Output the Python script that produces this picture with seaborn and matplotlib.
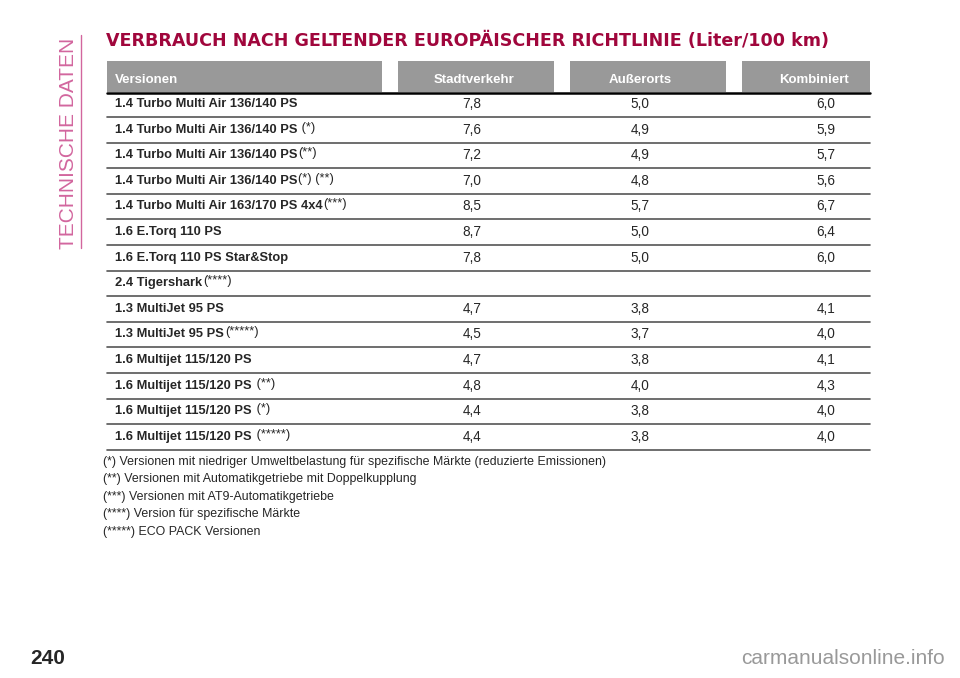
import matplotlib
matplotlib.use("Agg")
import matplotlib.pyplot as plt
import matplotlib.patches as mpatch
import seaborn as sns

sns.set_theme(style="white", font="Liberation Sans")

title = "VERBRAUCH NACH GELTENDER EUROPÄISCHER RICHTLINIE (Liter/100 km)"
headers = ["Versionen", "Stadtverkehr", "Außerorts", "Kombiniert"]
versions = ["1.4 Turbo Multi Air 136/140 PS", "1.4 Turbo Multi Air 136/140 PS",
            "1.4 Turbo Multi Air 136/140 PS", "1.4 Turbo Multi Air 136/140 PS",
            "1.4 Turbo Multi Air 163/170 PS 4x4", "1.6 E.Torq 110 PS",
            "1.6 E.Torq 110 PS Star&Stop", "2.4 Tigershark", "1.3 MultiJet 95 PS",
            "1.3 MultiJet 95 PS", "1.6 Multijet 115/120 PS", "1.6 Multijet 115/120 PS",
            "1.6 Multijet 115/120 PS", "1.6 Multijet 115/120 PS"]
marks = ["", " (*)", "(**)", "(*) (**)", "(***)", "", "", "(****)", "", "(*****)",
         "", " (**)", " (*)", " (*****)"]
stadt = ["7,8", "7,6", "7,2", "7,0", "8,5", "8,7", "7,8", "", "4,7", "4,5", "4,7", "4,8", "4,4", "4,4"]
ausser = ["5,0", "4,9", "4,9", "4,8", "5,7", "5,0", "5,0", "", "3,8", "3,7", "3,8", "4,0", "3,8", "3,8"]
kombi = ["6,0", "5,9", "5,7", "5,6", "6,7", "6,4", "6,0", "", "4,1", "4,0", "4,1", "4,3", "4,0", "4,0"]
notes = ["(*) Versionen mit niedriger Umweltbelastung für spezifische Märkte (reduzierte Emissionen)",
         "(**) Versionen mit Automatikgetriebe mit Doppelkupplung",
         "(***) Versionen mit AT9-Automatikgetriebe",
         "(****) Version für spezifische Märkte",
         "(*****) ECO PACK Versionen"]

W, H = 960, 678
fig = plt.figure(figsize=(W / 100, H / 100), dpi=100)
ax = fig.add_axes([0, 0, 1, 1])
ax.set_xlim(0, W)
ax.set_ylim(H, 0)
ax.axis("off")

pink = "#d2669e"
ax.text(68, 249, "TECHNISCHE DATEN", rotation=90, color=pink, fontsize=15,
        fontfamily="Liberation Sans", ha="center", va="bottom")
ax.plot([81, 81], [35, 248], color=pink, lw=1)

ax.text(106, 41, title, color="#a0063c", fontsize=12.6, fontweight="bold",
        fontfamily="DejaVu Sans", va="center")

# header boxes
boxes = [(107, 382), (398, 554), (570, 726), (742, 870)]
centers = [None, 474, 640, 814]
for i, (x0, x1) in enumerate(boxes):
    ax.add_patch(mpatch.Rectangle((x0, 61), x1 - x0, 31, color="#999999", lw=0))
    if i == 0:
        ax.text(115, 80, headers[i], color="white", fontsize=9.5, fontweight="bold", va="center")
    else:
        ax.text(centers[i], 80, headers[i], color="white", fontsize=9.5, fontweight="bold",
                va="center", ha="center")
ax.plot([107, 870], [93, 93], color="black", lw=1.8)

step = 25.6
val_x = [472, 640, 826]
for r, name in enumerate(versions):
    y = 104 + r * step
    t = ax.text(115, y, name, fontsize=9.3, fontweight="bold", va="center")
    fig.canvas.draw()
    bb = t.get_window_extent()
    if marks[r]:
        ax.text(bb.x1 + 1, y - 2, marks[r], fontsize=9.3, va="center")
    for x, v in zip(val_x, [stadt[r], ausser[r], kombi[r]]):
        ax.text(x, y, v, fontsize=9.8, ha="center", va="center")
    ax.plot([107, 870], [y + 13, y + 13], color="#555555", lw=1.2)

for k, n in enumerate(notes):
    ax.text(103, 462 + k * 17.4, n, fontsize=8.9, va="center")

ax.text(30, 658, "240", fontsize=15, fontweight="bold", va="center")
ax.text(945, 658, "carmanualsonline.info", fontsize=15, color="#999999", va="center", ha="right")

fig.savefig("out.png", dpi=100)
